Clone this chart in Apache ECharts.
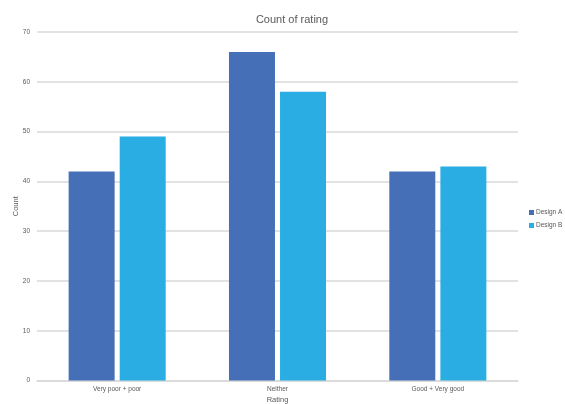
<!DOCTYPE html>
<html>
<head>
<meta charset="utf-8">
<script src="https://cdn.jsdelivr.net/npm/echarts@6/dist/echarts.min.js"></script>
<style>
  html, body { margin: 0; padding: 0; background: #fff; overflow: hidden; }
  #chart { width: 565px; height: 404px; }
</style>
</head>
<body>
<div id="chart"></div>
<script>
// Rating categories and counts per design
const categories = ['Very poor + poor', 'Neither', 'Good + Very good'];
const designA = [42, 66, 42];
const designB = [49, 58, 43];
const seriesNames = ['Design A', 'Design B'];

const chart = echarts.init(document.getElementById('chart'), null, { renderer: 'canvas' });

const font = 'Liberation Sans, Arial, sans-serif';

chart.setOption({
  animation: false,
  backgroundColor: '#ffffff',
  title: {
    text: 'Count of rating',
    left: 287,
    top: 9,
    textAlign: 'center',
    textStyle: { fontFamily: font, fontSize: 11, fontWeight: 'normal', color: '#595959' }
  },
  legend: {
    orient: 'vertical',
    left: 524,
    top: 204,
    itemWidth: 5,
    itemHeight: 5,
    itemGap: 6,
    icon: 'rect',
    textStyle: { fontFamily: font, fontSize: 6.5, color: '#595959', padding: [0, 0, 0, -3] },
    data: seriesNames
  },
  grid: {
    left: 37, right: 47, top: 32, bottom: 23.5,
    containLabel: false,
    outerBoundsMode: 'none'
  },
  xAxis: {
    type: 'category',
    data: categories,
    name: 'Rating',
    nameLocation: 'middle',
    nameGap: 15,
    nameMoveOverlap: false,
    nameTextStyle: { fontFamily: font, fontSize: 7.5, color: '#595959' },
    axisLine: { lineStyle: { color: '#d9d9d9', width: 1.5 } },
    axisTick: { show: false },
    axisLabel: { fontFamily: font, fontSize: 6.5, color: '#595959', margin: 5 }
  },
  yAxis: {
    type: 'value',
    min: 0,
    max: 70,
    interval: 10,
    name: 'Count',
    nameLocation: 'middle',
    nameGap: 17,
    nameMoveOverlap: false,
    nameTextStyle: { fontFamily: font, fontSize: 7.5, color: '#595959' },
    axisLine: { show: false },
    axisTick: { show: false },
    axisLabel: { fontFamily: font, fontSize: 6.5, color: '#595959', margin: 7 },
    splitLine: { lineStyle: { color: '#d9d9d9', width: 1.5 } }
  },
  series: [
    {
      name: seriesNames[0],
      type: 'bar',
      data: designA,
      barWidth: 46,
      barGap: '11%',
      itemStyle: { color: '#4570b8' }
    },
    {
      name: seriesNames[1],
      type: 'bar',
      data: designB,
      barWidth: 46,
      itemStyle: { color: '#29ade3' }
    }
  ]
});
</script>
</body>
</html>
